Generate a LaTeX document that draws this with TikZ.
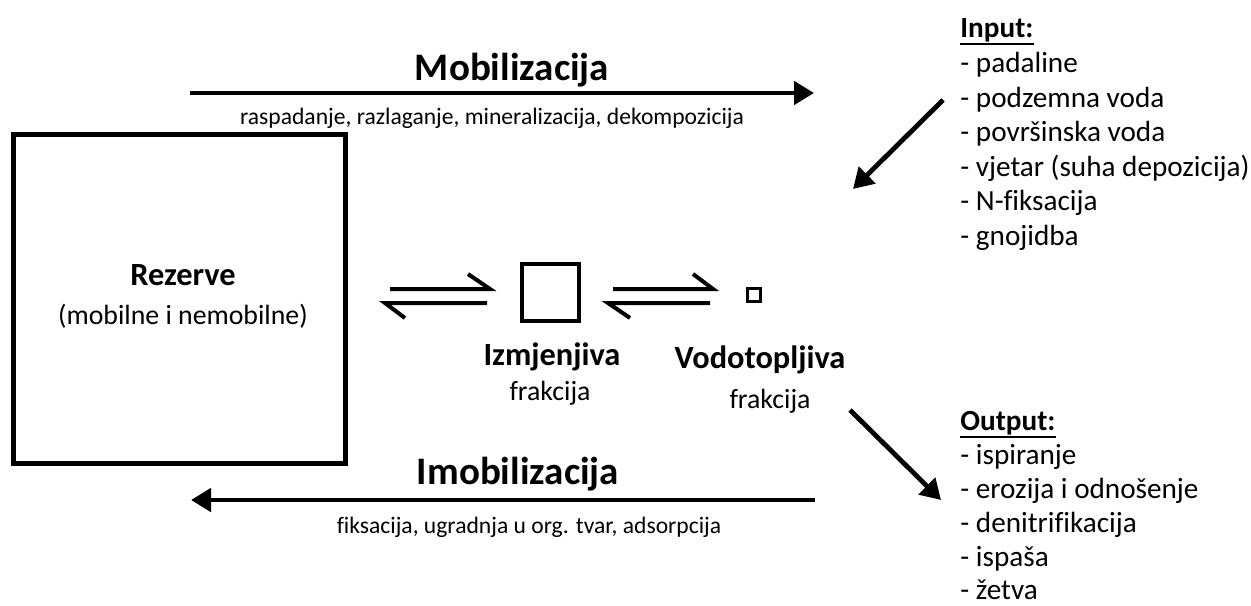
\documentclass[tikz,border=0pt]{standalone}
\usepackage{fontspec}
\setmainfont[RawFeature={-liga}]{Carlito}
\usetikzlibrary{arrows.meta}
\begin{document}
\begin{tikzpicture}[x=0.5pt,y=-0.5pt,
  bigarrow/.style={line width=2.4pt,-{Triangle[length=10pt,width=11.5pt]}},
  harp/.style={line width=2pt,line cap=butt,line join=miter},
  title/.style={font=\fontsize{19.5}{22}\selectfont\bfseries,inner sep=0pt},
  sub/.style={font=\fontsize{11.8}{14}\selectfont,inner sep=0pt},
  lbl/.style={font=\fontsize{16.2}{20}\selectfont\bfseries,inner sep=0pt},
  lblr/.style={font=\fontsize{13.9}{17}\selectfont,inner sep=0pt},
  item/.style={font=\fontsize{14.6}{17}\selectfont,inner sep=0pt,anchor=base west},
  uline/.style={line width=1.1pt}]
\fill[white] (0,0) rectangle (1251,605);
\useasboundingbox (0,0) rectangle (1251,605);
% big box
\node[draw,line width=2.5pt,minimum width=166pt,minimum height=164.5pt,inner sep=0pt] (rez) at (179.5,299) {};
\node[lbl,anchor=base] (rezt) at (183,285) {Rezerve};
\node[lblr,anchor=base] (rezs) at (183,324) {(mobilne i nemobilne)};
% small boxes
\node[draw,line width=2pt,minimum width=28.5pt,minimum height=28.5pt,inner sep=0pt] (izm) at (550.5,292.5) {};
\node[draw,line width=1.5pt,minimum width=6.5pt,minimum height=6.5pt,inner sep=0pt] (vod) at (754,295) {};
\node[lbl,anchor=base] (izmt) at (552,365) {Izmjenjiva};
\node[lblr,anchor=base] (izms) at (550,400) {frakcija};
\node[lbl,anchor=base] (vodt) at (760,368) {Vodotopljiva};
\node[lblr,anchor=base] (vods) at (770,408) {frakcija};
% harpoons 1
\coordinate (h1a) at (390,289); \coordinate (h1b) at (490,289); \coordinate (h1c) at (468,274);
\coordinate (h1d) at (487,303); \coordinate (h1e) at (385,303); \coordinate (h1f) at (405,318);
\draw[harp] (h1a) -- (h1b) -- (h1c);
\draw[harp] (h1d) -- (h1e) -- (h1f);
% harpoons 2
\coordinate (h2a) at (613,289); \coordinate (h2b) at (713,289); \coordinate (h2c) at (693,274);
\coordinate (h2d) at (710,303); \coordinate (h2e) at (608,303); \coordinate (h2f) at (630,318);
\draw[harp] (h2a) -- (h2b) -- (h2c);
\draw[harp] (h2d) -- (h2e) -- (h2f);
% mobilizacija
\coordinate (m1) at (190,93); \coordinate (m2) at (814,93);
\draw[bigarrow] (m1) -- (m2);
\node[title,anchor=base] (mobt) at (512,80) {Mobilizacija};
\node[sub,anchor=base] (mobs) at (492,124) {raspadanje, razlaganje, mineralizacija, dekompozicija};
% imobilizacija
\coordinate (i1) at (815,500); \coordinate (i2) at (191,500);
\draw[bigarrow] (i1) -- (i2);
\node[title,anchor=base] (imot) at (518,484) {Imobilizacija};
\node[sub,anchor=base] (imos) at (529,533) {fiksacija, ugradnja u org. tvar, adsorpcija};
% input / output arrows
\coordinate (in1) at (943,100); \coordinate (in2) at (853,189);
\draw[bigarrow] (in1) -- (in2);
\coordinate (out1) at (850,410); \coordinate (out2) at (941,500);
\draw[bigarrow] (out1) -- (out2);
% input list
\node[item,font=\fontsize{14.6}{17}\selectfont\bfseries] (inh) at (960,37) {Input:};
\draw[uline] ([yshift=-3.5pt]inh.base west) -- ([yshift=-3.5pt]inh.base east);
\node[item] (in-a) at (960,72) {- padaline};
\node[item] (in-b) at (960,107) {- podzemna voda};
\node[item] (in-c) at (960,141) {- površinska voda};
\node[item] (in-d) at (960,176) {- vjetar (suha depozicija)};
\node[item] (in-e) at (960,210) {- N-fiksacija};
\node[item] (in-f) at (960,245) {- gnojidba};
% output list
\node[item,font=\fontsize{14.6}{17}\selectfont\bfseries] (outh) at (960,430) {Output:};
\draw[uline] ([yshift=-3.5pt]outh.base west) -- ([yshift=-3.5pt]outh.base east);
\node[item] (out-a) at (960,464) {- ispiranje};
\node[item] (out-b) at (960,498) {- erozija i odnošenje};
\node[item] (out-c) at (960,532) {- denitrifikacija};
\node[item] (out-d) at (960,566) {- ispaša};
\node[item] (out-e) at (960,599) {- žetva};
\end{tikzpicture}
\end{document}
